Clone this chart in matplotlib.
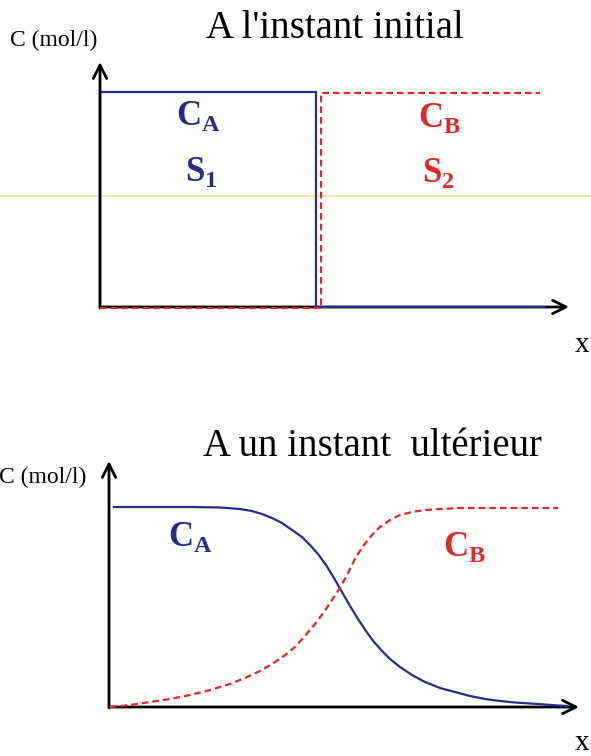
import numpy as np
import matplotlib
matplotlib.use("Agg")
import matplotlib.pyplot as plt

plt.rcParams['font.family'] = ['Liberation Serif', 'DejaVu Serif']
plt.rcParams['mathtext.fontset'] = 'custom'
plt.rcParams['mathtext.rm'] = 'Liberation Serif'
plt.rcParams['mathtext.bf'] = 'Liberation Serif:bold'

BLUE = '#2a2a8c'
RED = '#e0262a'

# --- panel 1: initial state (pixel coordinates)
ca0_x = [100, 100, 316, 316, 545]
ca0_y = [307, 92, 92, 307, 307]
cb0_x = [100, 316, 321, 321, 540]
cb0_y = [308, 308, 308, 93, 93]

# --- panel 2: later instant
ca1_x = [114, 150, 190, 220, 240, 252, 262, 272, 282, 292, 302, 310, 318, 326,
         334, 342, 350, 358, 366, 374, 382, 390, 400, 412, 425, 440, 455, 470,
         485, 500, 515, 530, 545, 558, 567]
ca1_y = [507, 507, 507, 507.5, 509, 511, 514, 518, 523, 530, 537, 545, 554, 565,
         578, 592, 606, 619, 631, 642, 651, 659, 667, 675, 682, 688, 692, 696,
         699, 701, 702.5, 703.5, 704.5, 705.5, 706]
cb1_x = [110, 130, 150, 170, 190, 210, 230, 245, 260, 272, 284, 295, 305, 315,
         324, 332, 340, 348, 356, 364, 372, 380, 390, 400, 412, 425, 440, 460,
         490, 520, 558]
cb1_y = [707, 705, 702, 699, 695, 690, 684, 678, 671, 664, 656, 647, 636, 624,
         612, 600, 588, 573, 557, 545, 535, 527, 520, 515, 512, 510, 509, 508,
         508, 508, 508]

fig = plt.figure(figsize=(5.91, 7.56), dpi=100)
ax = fig.add_axes([0, 0, 1, 1])
ax.set_xlim(0, 591)
ax.set_ylim(756, 0)
ax.axis('off')

# scan artefact line
ax.plot([0, 591], [196, 196], color='#f3e3a0', lw=1.2, zorder=0)

arrow = dict(arrowstyle='->', color='black', lw=2, mutation_scale=24,
             shrinkA=0, shrinkB=0)

# top panel
ax.plot(ca0_x, ca0_y, color=BLUE, lw=1.6, zorder=3)
ax.plot(cb0_x, cb0_y, color=RED, lw=1.6, ls=(0, (3, 1.8)), zorder=4)
ax.annotate('', xy=(100, 62), xytext=(100, 308), arrowprops=arrow)
ax.annotate('', xy=(569, 307), xytext=(100, 307), arrowprops=arrow, zorder=2)

ax.text(10, 40, 'C (mol/l)', fontsize=17, va='center', ha='left')
ax.text(335, 28, "A l'instant initial", fontsize=28, va='center', ha='center')
ax.text(582, 345, 'x', fontsize=21, va='center', ha='center')
ax.text(198, 116, r'$\mathbf{C}_{\mathbf{A}}$', fontsize=25, color=BLUE,
        va='center', ha='center')
ax.text(201, 172, r'$\mathbf{S}_{\mathbf{1}}$', fontsize=25, color=BLUE,
        va='center', ha='center')
ax.text(439, 118, r'$\mathbf{C}_{\mathbf{B}}$', fontsize=25, color=RED,
        va='center', ha='center')
ax.text(438, 173, r'$\mathbf{S}_{\mathbf{2}}$', fontsize=25, color=RED,
        va='center', ha='center')

# bottom panel
ax.annotate('', xy=(109, 461), xytext=(109, 708), arrowprops=arrow)
ax.annotate('', xy=(579, 707), xytext=(109, 707), arrowprops=arrow)
ax.plot(ca1_x, ca1_y, color=BLUE, lw=1.6, zorder=3)
ax.plot(cb1_x, cb1_y, color=RED, lw=1.6, ls=(0, (3, 1.8)), zorder=4)

ax.text(86, 477, 'C (mol/l)', fontsize=17, va='center', ha='right')
ax.text(372, 447, 'A un instant  ultérieur', fontsize=28, va='center',
        ha='center')
ax.text(582, 743, 'x', fontsize=21, va='center', ha='center')
ax.text(190, 537, r'$\mathbf{C}_{\mathbf{A}}$', fontsize=25, color=BLUE,
        va='center', ha='center')
ax.text(464, 547, r'$\mathbf{C}_{\mathbf{B}}$', fontsize=25, color=RED,
        va='center', ha='center')

fig.savefig('out.png', dpi=100)
